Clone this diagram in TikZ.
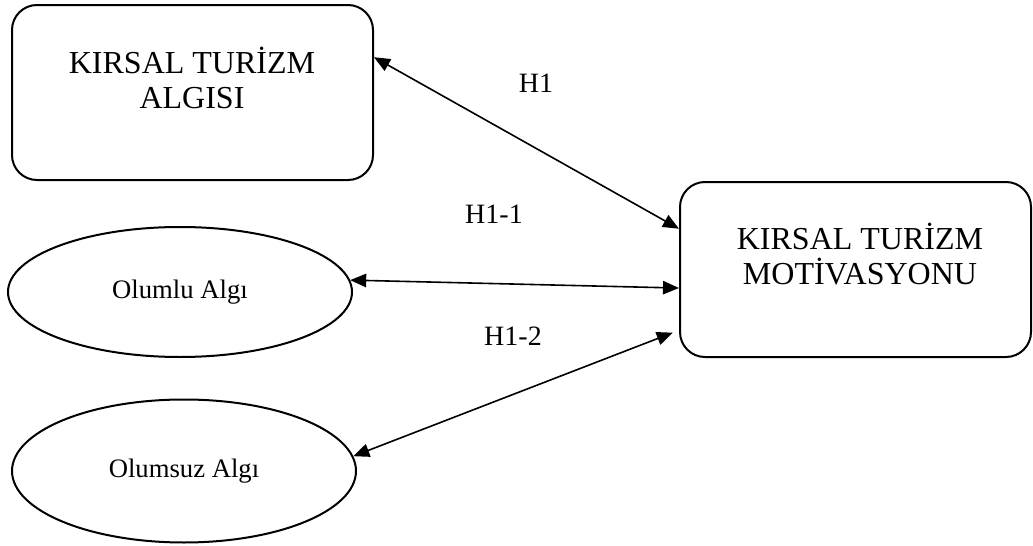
\documentclass[tikz,border=0pt]{standalone}
\usepackage{fontspec}
\setmainfont{Liberation Serif}
\usetikzlibrary{arrows.meta,shapes.geometric}

\tikzset{every picture/.style={line width=1.5pt}}
\tikzset{
  kutu/.style={draw, rounded corners=18.75pt, minimum height=131.25pt, inner sep=0pt},
  kutuyazi/.style={align=center, inner sep=0pt, font=\fontsize{24}{26}\selectfont},
  elips/.style={draw, ellipse, inner sep=0pt, font=\fontsize{20}{24}\selectfont},
  etiket/.style={anchor=base, inner sep=0pt, font=\fontsize{21}{25}\selectfont},
  iliski/.style={line width=1.2pt, {Triangle[length=12pt,width=10pt]}-{Triangle[length=12pt,width=10pt]}}
}

\begin{document}
\begin{tikzpicture}[x=0.75pt,y=0.75pt,yscale=-1,xscale=1]
\useasboundingbox (0,0) rectangle (1033,546);

%Rounded Rect
\draw (192.5,92.5) node [kutu, minimum width=270.75pt] (algi) {};
%Rounded Rect
\draw (855.5,269.5) node [kutu, minimum width=263.25pt] (motiv) {};
%Shape: Ellipse
\draw (180,292) node [elips, minimum width=258pt, minimum height=97.5pt] (olumlu) {Olumlu Algı};
%Shape: Ellipse
\draw (184,471) node [elips, minimum width=258pt, minimum height=107.25pt] (olumsuz) {Olumsuz Algı};

%Straight Lines
\draw [iliski] (algi.11) -- (motiv.167);
%Straight Lines
\draw [iliski] (olumlu.4) -- (motiv.186);
%Straight Lines
\draw [iliski, shorten >=5pt] (olumsuz.5) -- (motiv.-161);

% Text Node
\draw (192,78) node [kutuyazi] (algiyazi) {KIRSAL TURİZM\\ALGISI};
% Text Node
\draw (860,254) node [kutuyazi] (motivyazi) {KIRSAL TURİZM\\MOTİVASYONU};
% Text Node
\draw (536,92) node [etiket] (h1) {H1};
% Text Node
\draw (494,223) node [etiket] (h11) {H1-1};
% Text Node
\draw (513,345) node [etiket] (h12) {H1-2};

\end{tikzpicture}
\end{document}
